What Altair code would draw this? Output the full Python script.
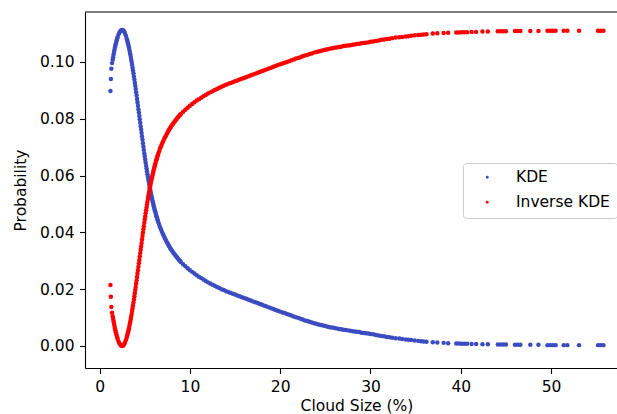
import altair as alt
import pandas as pd

# Cloud size (%) sample positions
CLOUD_SIZE = [
    1.20, 1.25, 1.30, 1.38, 1.45, 1.50, 1.55, 1.60, 1.65, 1.70, 1.75, 1.80, 1.85, 1.90, 1.95,
    2.00, 2.10, 2.20, 2.30, 2.40, 2.50, 2.60, 2.70, 2.80, 2.90,
    3.00, 3.05, 3.10, 3.15, 3.20, 3.25, 3.30, 3.35, 3.40, 3.45, 3.50, 3.55, 3.60, 3.65, 3.70,
    3.75, 3.80, 3.85, 3.90, 3.95, 4.00, 4.05, 4.10, 4.15, 4.20, 4.25, 4.30, 4.35, 4.40, 4.45,
    4.50, 4.55, 4.60, 4.65, 4.70, 4.75, 4.80, 4.85, 4.90, 4.95, 5.00, 5.05, 5.10, 5.15, 5.20,
    5.25, 5.30, 5.35, 5.40, 5.45, 5.50, 5.55, 5.60, 5.65, 5.70, 5.75, 5.80, 5.85, 5.90, 5.95,
    6.00, 6.05, 6.10, 6.15, 6.20, 6.25, 6.30, 6.35, 6.40, 6.45, 6.50,
    6.6, 6.7, 6.8, 6.9, 7.0, 7.1, 7.2, 7.3, 7.4, 7.5, 7.6, 7.7, 7.8, 7.9, 8.0, 8.1, 8.2, 8.3,
    8.4, 8.5, 8.6, 8.7, 8.8, 8.9, 9.0,
    9.25, 9.5, 9.75, 10.0, 10.25, 10.5, 10.75, 11.0, 11.25, 11.5, 11.75, 12.0, 12.25, 12.5,
    12.75, 13.0, 13.25, 13.5, 13.75, 14.0, 14.25, 14.5, 14.75, 15.0, 15.25, 15.5, 15.75, 16.0,
    16.25, 16.5, 16.75, 17.0, 17.25, 17.5, 17.75, 18.0, 18.25, 18.5, 18.75, 19.0, 19.25, 19.5,
    19.75, 20.0, 20.25, 20.5, 20.75, 21.0, 21.25, 21.5, 21.75, 22.0, 22.25, 22.5, 22.75, 23.0,
    23.25, 23.5, 23.75, 24.0, 24.25, 24.5, 24.75, 25.0, 25.25, 25.5, 25.75, 26.0, 26.25, 26.5,
    26.75, 27.0, 27.25, 27.5, 27.75, 28.0, 28.25, 28.5, 28.75, 29.0, 29.25, 29.5, 29.75, 30.0,
    30.3, 30.6, 30.9, 31.2, 31.5, 31.8, 32.1, 32.4, 32.8, 33.2, 33.5, 33.9, 34.2, 34.5, 34.9,
    35.3, 35.6, 35.9, 36.2,
    36.9, 37.4, 38.1, 38.6, 39.5, 39.8, 40.1, 40.4, 40.7, 41.2, 41.7, 42.4, 43.0, 44.1, 44.4,
    44.7, 45.0, 46.0, 46.3, 46.6, 47.7, 48.6, 49.6, 49.9, 50.2, 50.5, 51.4, 51.8, 53.1, 55.2,
    55.5, 55.8,
]

KDE = [
    .0898, .0940, .0976, .0996, .1008, .1017, .1026, .1035, .1043, .1051, .1058, .1065, .1071, .1077, .1083,
    .1088, .1097, .1104, .1109, .1112, .1113, .1112, .1108, .1102, .1093,
    .1083, .1077, .1071, .1065, .1058, .1051, .1043, .1035, .1027, .1018, .1009, .1000, .0990, .0980, .0970,
    .0960, .0949, .0938, .0927, .0916, .0905, .0893, .0882, .0870, .0858, .0846, .0834, .0822, .0810, .0798,
    .0786, .0774, .0762, .0750, .0738, .0726, .0714, .0702, .0691, .0679, .0668, .0657, .0646, .0635, .0625,
    .0615, .0605, .0595, .0586, .0577, .0568, .0559, .0551, .0543, .0535, .0527, .0520, .0513, .0506, .0499,
    .0492, .0486, .0480, .0474, .0468, .0462, .0457, .0452, .0446, .0441, .0436,
    .0427, .0418, .0410, .0402, .0395, .0388, .0381, .0375, .0369, .0363, .0357, .0351, .0346, .0341, .0336,
    .0332, .0327, .0323, .0319, .0315, .0311, .0307, .0303, .0300, .0296,
    .0288, .0281, .0274, .0267, .0261, .0255, .0249, .0244, .0239, .0234, .0229, .0224, .0220, .0216,
    .0212, .0208, .0204, .0200, .0197, .0193, .0190, .0187, .0184, .0181, .0178, .0175, .0172, .0169,
    .0166, .0163, .0160, .0157, .0154, .0151, .0148, .0145, .0142, .0139, .0136, .0133, .0130, .0127,
    .0124, .0121, .0118, .0116, .0113, .0110, .0107, .0104, .0101, .0099, .0096, .0093, .0090, .0088,
    .0085, .0083, .0080, .0078, .0076, .0074, .0072, .0070, .0068, .0066, .0065, .0063, .0062, .0060,
    .0059, .0057, .0056, .0055, .0054, .0052, .0051, .0050, .0049, .0047, .0046, .0045, .0044, .0042,
    .0041, .0039, .0037, .0035, .0034, .0032, .0031, .0029, .0027, .0026, .0025, .0023, .0022, .0021, .0019,
    .0018, .0017, .0016, .0015,
    .0013, .0012, .0011, .0010, .0009, .0009, .0008, .0008, .0008, .0007, .0007, .0006, .0006, .0005, .0005,
    .0005, .0005, .0004, .0004, .0004, .0004, .0004, .0003, .0003, .0003, .0003, .0003, .0003, .0003, .0003,
    .0003, .0003,
]

INVERSE_KDE = [
    .0215, .0173, .0137, .0117, .0105, .0096, .0087, .0078, .0070, .0062, .0055, .0048, .0042, .0036, .0030,
    .0025, .0016, .0009, .0004, .0001, .0000, .0001, .0005, .0011, .0020,
    .0030, .0036, .0042, .0048, .0055, .0062, .0070, .0078, .0086, .0095, .0104, .0113, .0123, .0133, .0143,
    .0153, .0164, .0175, .0186, .0197, .0208, .0220, .0231, .0243, .0255, .0267, .0279, .0291, .0303, .0315,
    .0327, .0339, .0351, .0363, .0375, .0387, .0399, .0411, .0422, .0434, .0445, .0456, .0467, .0478, .0488,
    .0498, .0508, .0518, .0527, .0536, .0545, .0554, .0562, .0570, .0578, .0586, .0593, .0600, .0607, .0614,
    .0621, .0627, .0633, .0639, .0645, .0651, .0656, .0661, .0667, .0672, .0677,
    .0686, .0695, .0703, .0711, .0718, .0725, .0732, .0738, .0744, .0750, .0756, .0762, .0767, .0772, .0777,
    .0781, .0786, .0790, .0794, .0798, .0802, .0806, .0810, .0813, .0817,
    .0825, .0832, .0839, .0846, .0852, .0858, .0864, .0869, .0874, .0879, .0884, .0889, .0893, .0897,
    .0901, .0905, .0909, .0913, .0916, .0920, .0923, .0926, .0929, .0932, .0935, .0938, .0941, .0944,
    .0947, .0950, .0953, .0956, .0959, .0962, .0965, .0968, .0971, .0974, .0977, .0980, .0983, .0986,
    .0989, .0992, .0995, .0997, .1000, .1003, .1006, .1009, .1012, .1014, .1017, .1020, .1023, .1025,
    .1028, .1030, .1033, .1035, .1037, .1039, .1041, .1043, .1045, .1047, .1048, .1050, .1051, .1053,
    .1054, .1056, .1057, .1058, .1059, .1061, .1062, .1063, .1064, .1066, .1067, .1068, .1069, .1071,
    .1072, .1074, .1076, .1078, .1079, .1081, .1082, .1084, .1086, .1087, .1088, .1090, .1091, .1092, .1094,
    .1095, .1096, .1097, .1098,
    .1100, .1101, .1102, .1103, .1104, .1104, .1105, .1105, .1105, .1106, .1106, .1107, .1107, .1108, .1108,
    .1108, .1108, .1109, .1109, .1109, .1109, .1109, .1110, .1110, .1110, .1110, .1110, .1110, .1110, .1110,
    .1110, .1110,
]

SERIES = ["KDE", "Inverse KDE"]
COLORS = ["#3b4cc0", "#ff0000"]
X_TICKS = [0, 10, 20, 30, 40, 50]
Y_TICKS = [0.0, 0.02, 0.04, 0.06, 0.08, 0.10]

rows = [{"x": x, "p": v, "s": SERIES[0]} for x, v in zip(CLOUD_SIZE, KDE)]
rows += [{"x": x, "p": v, "s": SERIES[1]} for x, v in zip(CLOUD_SIZE, INVERSE_KDE)]
df = pd.DataFrame(rows)

W, H = 532, 356
FONT = "DejaVu Sans"
FS = 15.5

points = alt.Chart(df).mark_circle(size=20, opacity=1).encode(
    x=alt.X(
        "x:Q",
        scale=alt.Scale(domain=[-1.617, 57.30], nice=False, zero=False),
        axis=alt.Axis(
            values=X_TICKS, title="Cloud Size (%)", grid=False,
            titleX=271.5, titleY=37, titleAlign="center", titleBaseline="middle",
        ),
    ),
    y=alt.Y(
        "p:Q",
        scale=alt.Scale(domain=[-0.00775, 0.1176], nice=False, zero=False),
        axis=alt.Axis(
            values=Y_TICKS, format=".2f", title="Probability", grid=False,
            titleX=-65, titleY=178, titleAngle=270, titleAlign="center", titleBaseline="middle",
        ),
    ),
    color=alt.Color(
        "s:N",
        scale=alt.Scale(domain=SERIES, range=COLORS),
        title=None,
        legend=alt.Legend(
            orient="none", legendX=378, legendY=151, padding=6.5,
            strokeColor="#cccccc", fillColor="white", cornerRadius=3,
            symbolType="circle", symbolSize=8, symbolOffset=10,
            labelOffset=21, rowPadding=8,
            labelFont=FONT, labelFontSize=FS, labelColor="black",
        ),
    ),
)

top_spine = alt.Chart(pd.DataFrame({"a": [0]})).mark_rule(color="black", strokeWidth=1.1).encode(
    y=alt.value(0), x=alt.value(0), x2=alt.value(W)
)

chart = alt.layer(points, top_spine).properties(
    width=W, height=H,
    autosize=alt.AutoSizeParams(type="none"),
    padding={"left": 85, "top": 12, "right": 0, "bottom": 46},
    background="white",
).configure_view(stroke=None).configure_axis(
    labelFont=FONT, labelFontSize=FS, labelColor="black",
    titleFont=FONT, titleFontSize=FS, titleFontWeight="normal", titleColor="black",
    domainColor="black", domainWidth=1.1, tickColor="black", tickWidth=1.1,
    tickSize=5.5, labelPadding=5.5,
)

chart.save("out.html", embed_options={"renderer": "svg", "actions": False})
